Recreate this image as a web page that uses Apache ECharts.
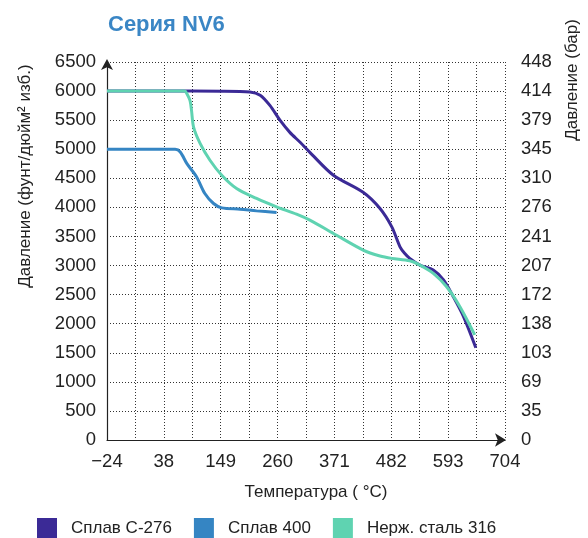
<!DOCTYPE html>
<html>
<head>
<meta charset="utf-8">
<script src="https://cdn.jsdelivr.net/npm/echarts@6/dist/echarts.min.js"></script>
<style>
  html, body { margin: 0; padding: 0; background: #fff; }
  #chart { width: 588px; height: 538px; }
</style>
</head>
<body>
<div id="chart"></div>
<script>
// Temperature tick labels (°C) — evenly spaced along the axis
const tempTicks = [-24, 38, 149, 260, 371, 482, 593, 704];
const tempTickLabels = ['\u221224', '38', '149', '260', '371', '482', '593', '704'];

// Pressure ticks: psi on the left, bar on the right
const psiTicks = [0, 500, 1000, 1500, 2000, 2500, 3000, 3500, 4000, 4500, 5000, 5500, 6000, 6500];
const barTickLabels = ['0', '35', '69', '103', '138', '172', '207', '241', '276', '310', '345', '379', '414', '448'];

const seriesNames = ['Сплав C-276', 'Сплав 400', 'Нерж. сталь 316'];

// Alloy C-276: temperature (°C) / pressure (psi)
const c276Temp = [-24, 38, 149, 206, 226, 245, 265, 284, 304, 323, 369, 427, 460, 483, 499, 508, 518, 538, 564, 584, 603, 623, 647];
const c276Psi  = [6000, 6000, 5998, 5985, 5930, 5754, 5495, 5290, 5119, 4947, 4553, 4260, 3981, 3665, 3322, 3210, 3123, 3008, 2922, 2751, 2464, 2121, 1586];

// Alloy 400
const a400Temp = [-24, 38, 60, 70, 83, 102, 118, 135, 151, 187, 219, 258];
const a400Psi  = [5000, 5000, 4998, 4952, 4753, 4523, 4238, 4067, 3992, 3969, 3940, 3912];

// Stainless steel 316
const ss316Temp = [-24, 38, 79, 83, 89, 92, 96, 109, 128, 151, 180, 219, 258, 297, 323, 369, 427, 460, 483, 518, 538, 564, 590, 616, 645];
const ss316Psi  = [6000, 6000, 6000, 5955, 5840, 5668, 5381, 5096, 4810, 4553, 4324, 4153, 4009, 3883, 3780, 3552, 3266, 3163, 3123, 3082, 3008, 2866, 2636, 2293, 1807];

const colors = ['#3b2a96', '#3585c3', '#5fd3b1'];

// The temperature axis is evenly spaced between its labelled ticks,
// so each temperature is placed by its position between neighbouring ticks.
function tempToAxis(t) {
  for (let i = 0; i < tempTicks.length - 1; i++) {
    const a = tempTicks[i], b = tempTicks[i + 1];
    if (t <= b || i === tempTicks.length - 2) {
      return i + (t - a) / (b - a);
    }
  }
  return tempTicks.length - 1;
}

function pairs(temps, vals) {
  return temps.map((t, i) => [tempToAxis(t), vals[i]]);
}

const FONT = '"Liberation Sans", Arial, sans-serif';
const gridLine = { show: true, lineStyle: { color: '#333', width: 1, type: [1, 2] } };
const TICK_FONT = 18.5;

const chart = echarts.init(document.getElementById('chart'), null, { renderer: 'canvas' });

chart.setOption({
  animation: false,
  textStyle: { fontFamily: FONT },
  title: {
    text: 'Серия NV6',
    left: 103, top: 9,
    textStyle: { color: '#3a86c5', fontSize: 22, fontWeight: 'bold', fontFamily: FONT }
  },
  legend: {
    top: 518, left: 37, padding: 0,
    itemWidth: 20, itemHeight: 20, itemGap: 22,
    icon: 'rect',
    textStyle: { color: '#222', fontSize: 17, fontFamily: FONT, padding: [0, 0, 0, 9] },
    data: seriesNames
  },
  grid: { left: 107, right: 83, top: 62, bottom: 98, containLabel: false },
  xAxis: {
    type: 'value',
    min: 0, max: tempTicks.length - 1, interval: 0.5,
    axisLine: { show: true, lineStyle: { color: '#222', width: 1.2 }, symbol: ['none', 'arrow'], symbolSize: [10, 11], symbolOffset: [0, 1] },
    axisTick: { show: false },
    splitLine: gridLine,
    axisLabel: {
      color: '#222', fontSize: TICK_FONT, margin: 12, fontFamily: FONT,
      formatter: v => Number.isInteger(v) ? tempTickLabels[v] : ''
    }
  },
  yAxis: [
    {
      type: 'value', position: 'left',
      min: 0, max: 6500, interval: 500,
      axisLine: { show: true, lineStyle: { color: '#222', width: 1.2 }, symbol: ['none', 'arrow'], symbolSize: [9, 11], symbolOffset: [0, 3] },
      axisTick: { show: false },
      splitLine: gridLine,
      axisLabel: { color: '#222', fontSize: TICK_FONT, margin: 11, fontFamily: FONT, formatter: v => String(v) }
    },
    {
      type: 'value', position: 'right',
      min: 0, max: 6500, interval: 500,
      axisLine: { show: false },
      axisTick: { show: false },
      splitLine: { show: false },
      axisLabel: {
        color: '#222', fontSize: TICK_FONT, margin: 16, fontFamily: FONT,
        formatter: v => barTickLabels[psiTicks.indexOf(v)]
      }
    }
  ],
  graphic: [
    {
      type: 'text', x: 25, y: 176, rotation: Math.PI / 2,
      style: {
        text: 'Давление (фунт/дюйм² изб.)',
        fill: '#222', font: '17px ' + FONT, align: 'center', verticalAlign: 'middle'
      }
    },
    {
      type: 'text', x: 572, y: 80, rotation: Math.PI / 2,
      style: {
        text: 'Давление (бар)',
        fill: '#222', font: '17px ' + FONT, align: 'center', verticalAlign: 'middle'
      }
    },
    {
      type: 'text', x: 316, y: 492,
      style: {
        text: 'Температура ( °C)',
        fill: '#222', font: '17px ' + FONT, align: 'center', verticalAlign: 'middle'
      }
    }
  ],
  series: [
    { name: seriesNames[0], type: 'line', data: pairs(c276Temp, c276Psi) },
    { name: seriesNames[1], type: 'line', data: pairs(a400Temp, a400Psi) },
    { name: seriesNames[2], type: 'line', data: pairs(ss316Temp, ss316Psi) }
  ].map((s, i) => Object.assign(s, {
    yAxisIndex: 0,
    smooth: 0.3,
    showSymbol: false,
    color: colors[i],
    lineStyle: { color: colors[i], width: 3 }
  }))
});
</script>
</body>
</html>
